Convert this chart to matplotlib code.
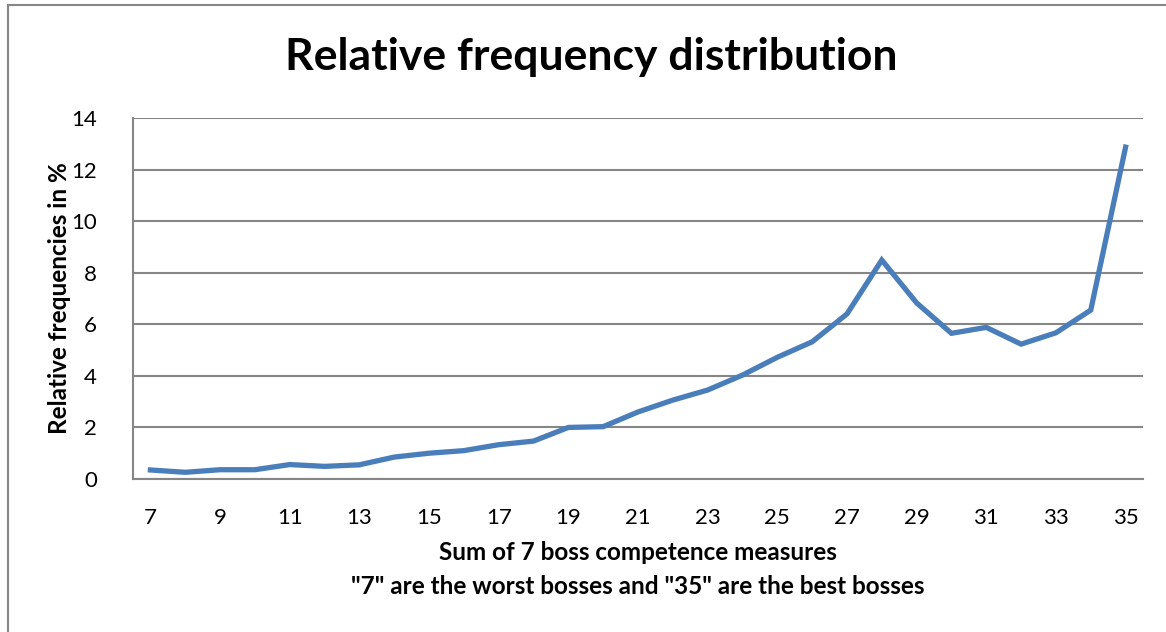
import matplotlib.pyplot as plt
from matplotlib.patches import Rectangle

# sum of 7 boss competence measures and relative frequencies (%)
scores = list(range(7, 36))
rel_freq = [0.35, 0.26, 0.36, 0.36, 0.56, 0.49, 0.55, 0.85, 1.0, 1.1,
            1.33, 1.47, 2.0, 2.03, 2.6, 3.06, 3.45, 4.03, 4.72, 5.32,
            6.4, 8.49, 6.83, 5.65, 5.88, 5.23, 5.67, 6.55, 12.87]
x_ticks = list(range(7, 36, 2))
y_ticks = list(range(0, 15, 2))

plt.rcParams['font.family'] = ['Lato', 'DejaVu Sans']

fig = plt.figure(figsize=(11.66, 6.32), dpi=100)
ax = fig.add_axes([133 / 1166, 1 - 479 / 632, (1143 - 133) / 1166, (479 - 118) / 632])

# outer chart border (cut off on the right and bottom)
fig.patches.append(Rectangle((8 / 1166, -0.1), 1.2, 1 - 5 / 632 + 0.1,
                             transform=fig.transFigure, fill=False,
                             edgecolor="#868686", linewidth=1.5))

ax.plot(scores, rel_freq, color="#4a7ebb", linewidth=3.8, solid_joinstyle="miter")

ax.set_xlim(6.5, 35.5)
ax.set_ylim(0, 14)
ax.set_xticks(x_ticks)
ax.set_yticks(y_ticks)
ax.tick_params(axis="both", length=0, labelsize=16, colors="black")
ax.tick_params(axis="x", pad=21)
ax.tick_params(axis="y", pad=26)
ax.yaxis.grid(True, color="#868686", linewidth=1.5)
ax.set_axisbelow(True)
for side in ["top", "right"]:
    ax.spines[side].set_visible(False)
ax.spines["left"].set_color("#868686")
ax.spines["bottom"].set_color("#868686")
ax.spines["left"].set_linewidth(1.5)
ax.spines["bottom"].set_linewidth(1.5)

fig.text(591 / 1166, 1 - 57 / 632, "Relative frequency distribution",
         fontsize=32, fontweight="bold", ha="center", va="center")
fig.text(638 / 1166, 1 - 553 / 632, "Sum of 7 boss competence measures",
         fontsize=17.5, fontweight="bold", ha="center", va="center")
fig.text(638 / 1166, 1 - 586 / 632, '"7" are the worst bosses and "35" are the best bosses',
         fontsize=17.5, fontweight="bold", ha="center", va="center")
fig.text(60 / 1166, 1 - 298 / 632, "Relative frequencies in %",
         fontsize=17.5, fontweight="bold", ha="center", va="center", rotation=90)

fig.savefig("out.png", dpi=100)
